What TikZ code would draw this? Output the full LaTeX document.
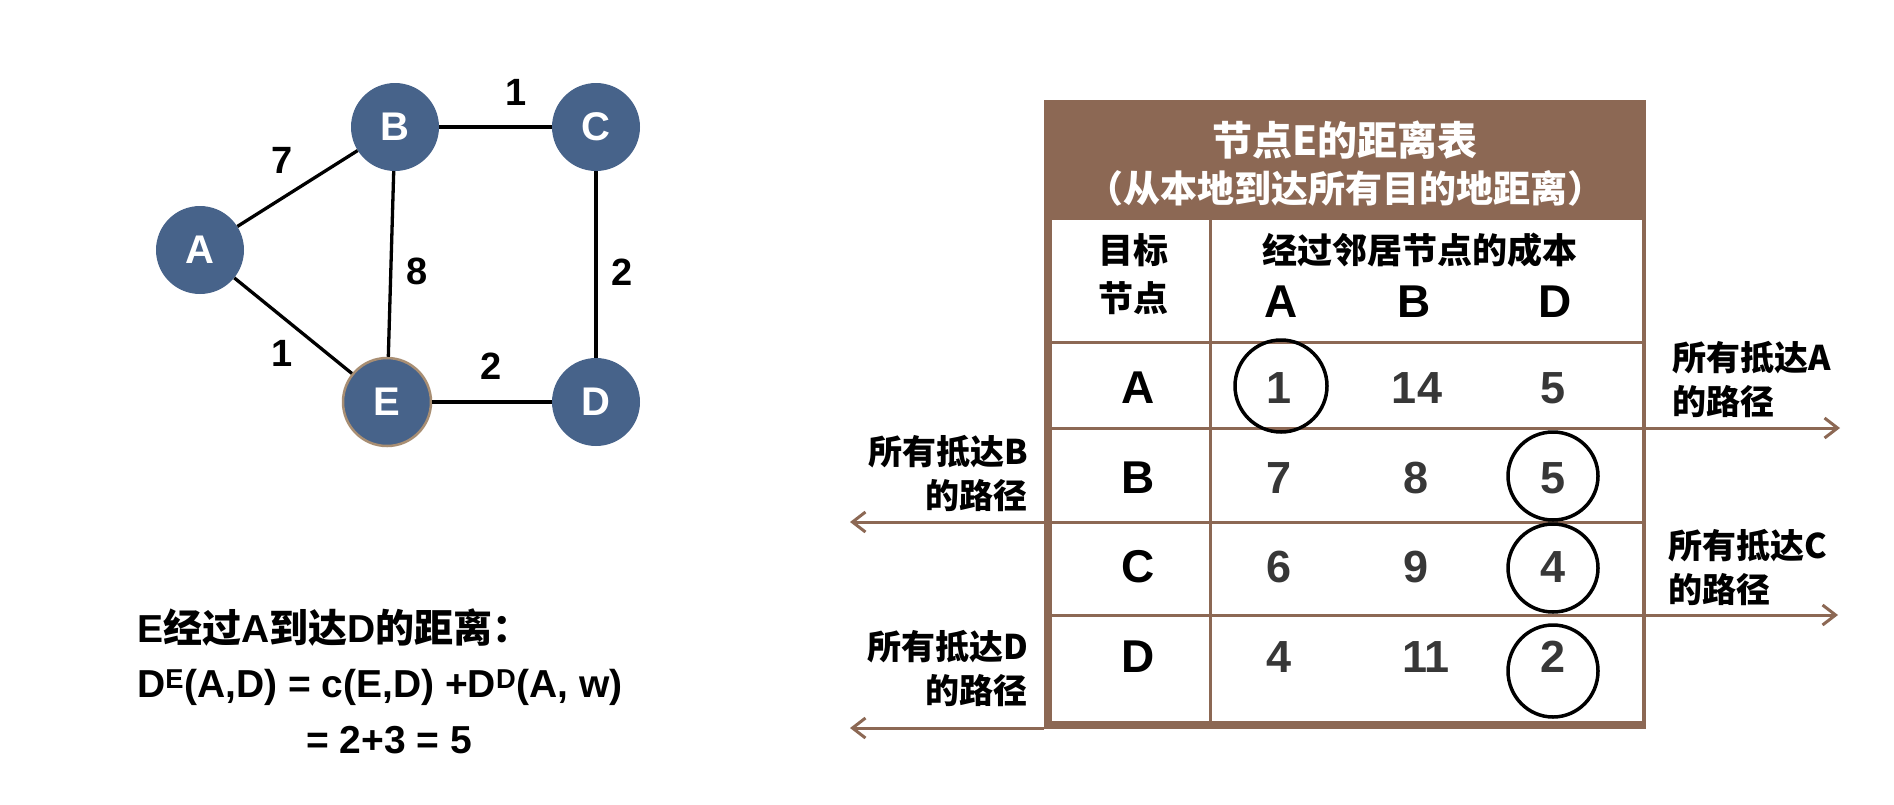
\documentclass[tikz,border=0pt]{standalone}
\usepackage{fontspec}
\setmainfont{Liberation Sans}
\newfontfamily\cjk{Noto Sans CJK SC}
\usepackage{xcolor}
\usetikzlibrary{arrows.meta, positioning}

\definecolor{nodeblue}{RGB}{71,99,138}
\definecolor{ringtan}{RGB}{168,142,115}
\definecolor{tablebrown}{RGB}{140,104,84}
\definecolor{costgray}{RGB}{55,55,55}

\begin{document}
\begin{tikzpicture}[x=1pt, y=-1pt,
    router/.style={circle, fill=nodeblue, minimum size=88pt, inner sep=0pt, text=white, font=\fontsize{40}{40}\selectfont\bfseries},
    link/.style={line width=3.3pt},
    weight/.style={font=\fontsize{38}{38}\selectfont\bfseries},
    title/.style={text=white, inner sep=0pt, font=\fontsize{37}{37}\selectfont\cjk\bfseries},
    headtxt/.style={inner sep=0pt, font=\fontsize{35}{35}\selectfont\cjk\bfseries},
    rowlab/.style={inner sep=0pt, font=\fontsize{46}{46}\selectfont\bfseries},
    cost/.style={inner sep=0pt, text=costgray, font=\fontsize{45}{45}\selectfont\bfseries},
    grid/.style={tablebrown, line width=3pt},
    route/.style={tablebrown, line width=3pt, -{Straight Barb[length=13pt, width=20pt]}},
    ring/.style={line width=3.5pt},
    sidenote/.style={inner sep=0pt, font=\fontsize{34}{44}\selectfont\cjk\bfseries},
    formula/.style={inner sep=0pt, anchor=west, font=\fontsize{39}{39}\selectfont\bfseries}
]

\fill[white] (0,0) rectangle (1894,804);
\useasboundingbox (0,0) rectangle (1894,804);

% Network
\node[router] (A) at (200,250) {A};
\node[router] (B) at (395,127) {B};
\node[router] (C) at (596,127) {C};
\node[router, draw=ringtan, line width=2.5pt] (E) at (387,402) {E};
\node[router] (D) at (596,402) {D};

\draw[link] (A) -- (B);
\draw[link] (A) -- (E);
\draw[link] (B) -- (C);
\draw[link] (B) -- (E);
\draw[link] (C) -- (D);
\draw[link] (E) -- (D);

% Weights
\node[weight] (wAB) at (282,160) {7};
\node[weight] (wBC) at (516,92) {1};
\node[weight] (wBE) at (417,271) {8};
\node[weight] (wCD) at (622,272) {2};
\node[weight] (wAE) at (282,353) {1};
\node[weight] (wED) at (491,366) {2};

% Formula
\node[formula] (f1) at (137,628) {E{\cjk 经过}A{\cjk 到达}D{\cjk 的距离：}};
\node[formula] (f2) at (137,687) {D\textsuperscript{E}(A,D) = c(E,D) +D\textsuperscript{D}(A, w)};
\node[formula] (f3) at (306,740) {= 2+3 = 5};

% Table frame
\coordinate (tl) at (1044,100);
\coordinate (tr) at (1646,100);
\coordinate (bl) at (1044,725);
\coordinate (br) at (1646,725);
\fill[tablebrown] (tl) rectangle (1646,220);
\draw[tablebrown, line width=8pt] (1048,100) -- (1048,729);
\draw[tablebrown, line width=8pt] (bl) -- (br);
\draw[tablebrown, line width=4pt] (1644,100) -- (1644,729);

% Grid
\draw[grid] (1210,220) -- (1210,722);
\draw[grid] (1052,342) -- (1642,342);
\draw[grid] (1052,428) -- (1642,428);
\draw[grid] (1052,522) -- (1642,522);
\draw[grid] (1052,615) -- (1642,615);

% Header
\node[title, font=\fontsize{40}{40}\selectfont\cjk\bfseries] (ttl1) at (1345,140) {节点E的距离表};
\node[title] (ttl2) at (1345,188) {（从本地到达所有目的地距离）};
\node[headtxt] (dst1) at (1133,250) {目标};
\node[headtxt] (dst2) at (1133,298) {节点};
\node[headtxt] (via) at (1420,250) {经过邻居节点的成本};
\node[rowlab] (viaA) at (1281,302) {A};
\node[rowlab] (viaB) at (1414,302) {B};
\node[rowlab] (viaD) at (1555,302) {D};

% Rows
\node[rowlab] (toA) at (1138,388) {A};
\node[cost] (aA) at (1279,388) {1};
\node[cost] (aB) at (1417,388) {14};
\node[cost] (aD) at (1553,388) {5};

\node[rowlab] (toB) at (1138,478) {B};
\node[cost] (bA) at (1279,478) {7};
\node[cost] (bB) at (1416,478) {8};
\node[cost] (bD) at (1553,478) {5};

\node[rowlab] (toC) at (1138,567) {C};
\node[cost] (cA) at (1279,567) {6};
\node[cost] (cB) at (1416,567) {9};
\node[cost] (cD) at (1553,567) {4};

\node[rowlab] (toD) at (1138,657) {D};
\node[cost] (dA) at (1279,657) {4};
\node[cost] (dB) at (1426,657) {11};
\node[cost] (dD) at (1553,657) {2};

% Minimum marks
\draw[ring] (1281,386) ellipse [x radius=46, y radius=46];
\draw[ring] (1553,476) ellipse [x radius=45, y radius=44];
\draw[ring] (1553,568) ellipse [x radius=45, y radius=44];
\draw[ring] (1553,671) ellipse [x radius=45, y radius=46];

% Outgoing paths
\coordinate (rAB) at (1646,428);
\coordinate (rCD) at (1646,615);
\coordinate (lBC) at (1044,522);
\coordinate (lBot) at (1044,728);
\coordinate (outA) at (1840,428);
\coordinate (outC) at (1838,615);
\coordinate (outB) at (850,522);
\coordinate (outD) at (850,728);
\draw[route] (rAB) -- (outA);
\draw[route] (rCD) -- (outC);
\draw[route] (lBC) -- (outB);
\draw[route] (lBot) -- (outD);

\node[sidenote, align=left, anchor=west] (pA) at (1672,380) {所有抵达A\\的路径};
\node[sidenote, align=left, anchor=west] (pC) at (1668,567) {所有抵达C\\的路径};
\node[sidenote, align=right, anchor=east] (pB) at (1028,474) {所有抵达B\\的路径};
\node[sidenote, align=right, anchor=east] (pD) at (1028,668) {所有抵达D\\的路径};

\end{tikzpicture}
\end{document}
